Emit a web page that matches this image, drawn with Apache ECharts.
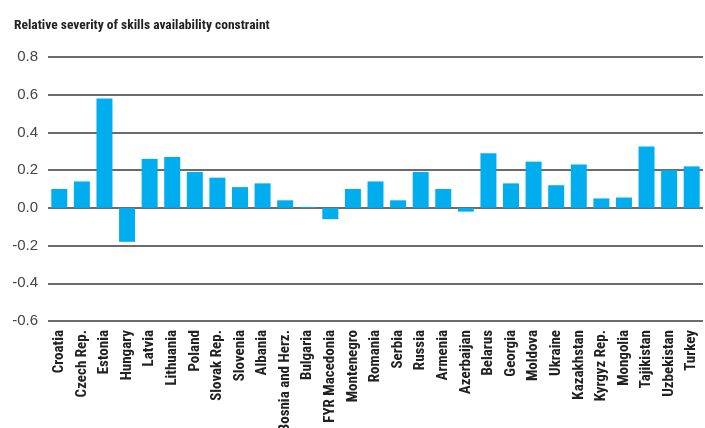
<!DOCTYPE html>
<html>
<head>
    <meta charset="utf-8" />
    <title>Skills constraint</title>
    <script src="https://cdn.jsdelivr.net/npm/echarts@6/dist/echarts.min.js"></script>
</head>
<body style="margin: 0; background: #fff">
    <div id="main" style="width: 705px; height: 428px"></div>
    <script type="text/javascript">
        var countries = [
            "Croatia", "Czech Rep.", "Estonia", "Hungary", "Latvia", "Lithuania",
            "Poland", "Slovak Rep.", "Slovenia", "Albania", "Bosnia and Herz.",
            "Bulgaria", "FYR Macedonia", "Montenegro", "Romania", "Serbia",
            "Russia", "Armenia", "Azerbaijan", "Belarus", "Georgia", "Moldova",
            "Ukraine", "Kazakhstan", "Kyrgyz Rep.", "Mongolia", "Tajikistan",
            "Uzbekistan", "Turkey"
        ];
        var severity = [
            0.10, 0.14, 0.58, -0.18, 0.26, 0.27,
            0.19, 0.16, 0.11, 0.13, 0.04,
            0.005, -0.06, 0.10, 0.14, 0.04,
            0.19, 0.10, -0.02, 0.29, 0.13, 0.245,
            0.12, 0.23, 0.05, 0.055, 0.325,
            0.20, 0.22
        ];
        var yMin = -0.6, yMax = 0.8, yStep = 0.2;

        var condensed = "'Roboto Condensed', 'Liberation Sans', sans-serif";
        var myChart = echarts.init(document.getElementById("main"));
        var option = {
            animation: false,
            title: {
                text: "Relative severity of skills availability constraint",
                left: 9,
                top: 14,
                textStyle: { fontFamily: condensed, fontWeight: "bold", fontSize: 13.5, color: "#222" }
            },
            grid: { left: 48, right: 2, top: 57, bottom: 107, outerBoundsMode: "none" },
            xAxis: {
                type: "category",
                data: countries,
                axisLine: { show: false },
                axisTick: { show: false },
                axisLabel: {
                    rotate: 90,
                    interval: 0,
                    margin: 9,
                    fontFamily: condensed,
                    fontWeight: "bold",
                    fontSize: 15,
                    color: "#222"
                }
            },
            yAxis: {
                type: "value",
                min: yMin,
                max: yMax,
                interval: yStep,
                axisLine: { show: false },
                axisTick: { show: false },
                axisLabel: {
                    margin: 10,
                    fontFamily: "'Liberation Sans', Arial, sans-serif",
                    fontSize: 15,
                    color: "#444",
                    formatter: function (v) { return v.toFixed(1); }
                },
                splitLine: { lineStyle: { color: "#3a3a3a", width: 1.5 } }
            },
            series: [
                {
                    type: "bar",
                    data: severity,
                    barWidth: 16,
                    itemStyle: { color: "#00AEEF" }
                }
            ]
        };
        myChart.setOption(option);
    </script>
</body>
</html>
